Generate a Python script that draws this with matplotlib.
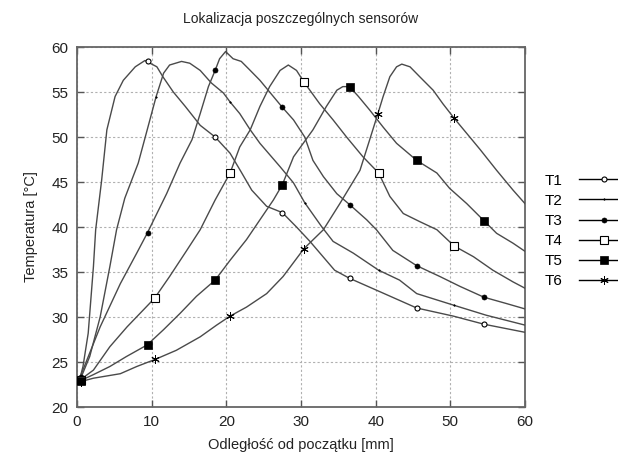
import matplotlib
matplotlib.use("Agg")
import matplotlib.pyplot as plt

plt.rcParams['font.family'] = ['Liberation Sans', 'DejaVu Sans']

title = "Lokalizacja poszczególnych sensorów"
xlabel = "Odległość od początku [mm]"
ylabel = "Temperatura [°C]"
xticks = [0, 10, 20, 30, 40, 50, 60]
yticks = [20, 25, 30, 35, 40, 45, 50, 55, 60]

t1_x = [0.4, 0.8, 1.5, 2.2, 2.5, 3.3, 4.0, 5.1, 6.2, 7.8, 9.1, 10.7, 11.5, 12.9, 14.5, 16.5, 18.5, 20.5, 22, 23.4, 25.4, 27.5, 29.4, 31.2, 34.5, 36.5, 40.6, 45.5, 50.4, 54.5, 60]
t1_y = [23.2, 24.5, 28.2, 35.6, 39.7, 45.2, 50.8, 54.5, 56.3, 57.8, 58.5, 57.8, 56.7, 55, 53.4, 51.3, 50, 48.2, 46.1, 44.1, 42.3, 41.6, 40.0, 38.4, 35.2, 34.3, 32.8, 31.0, 30.1, 29.2, 28.3]
t1_mx = [0.5, 9.5, 18.5, 27.5, 36.5, 45.5, 54.5]
t1_my = [23.2, 58.4, 50.0, 41.6, 34.3, 31.0, 29.2]

t2_x = [0.4, 1.7, 3.1, 4.4, 5.3, 6.4, 8.2, 9.5, 10.6, 11.6, 12.4, 14.0, 15.1, 16.5, 18.0, 19.6, 20.5, 21.8, 23.2, 24.5, 27.2, 29.0, 30.5, 32.8, 34.3, 37, 40.4, 43.2, 45.5, 50.5, 54.8, 60]
t2_y = [23.0, 25.6, 30, 35.6, 39.7, 43.2, 47.1, 51.1, 54.5, 57.1, 58, 58.4, 58.2, 57.4, 56, 54.9, 53.9, 52.6, 50.8, 49.3, 46.7, 44.9, 42.7, 40, 38.4, 37.1, 35.2, 34.1, 32.6, 31.3, 30.2, 29.1]
t2_mx = [0.5, 10.6, 20.5, 30.5, 40.4, 50.5]
t2_my = [23.0, 54.5, 53.9, 42.7, 35.2, 31.3]

t3_x = [0.4, 3.1, 5.8, 8.0, 9.4, 10.7, 12, 13.8, 15.4, 16.5, 17.6, 18.5, 19.1, 19.9, 20.9, 22, 23.2, 24.5, 25.8, 27.5, 29, 30.5, 31.6, 33, 34.8, 36.5, 38.8, 40.1, 42.3, 45.5, 48.6, 51.3, 54.5, 57.5, 60]
t3_y = [23.3, 28.9, 33.7, 37.1, 39.3, 41.5, 43.7, 47.1, 49.7, 52.6, 55.6, 57.4, 58.7, 59.5, 58.7, 58.4, 57.4, 56.3, 55, 53.3, 51.9, 50, 47.4, 45.6, 43.7, 42.5, 40.8, 39.7, 37.4, 35.7, 34.5, 33.4, 32.2, 31.5, 30.9]
t3_mx = [0.5, 9.5, 18.5, 27.5, 36.5, 45.5, 54.5]
t3_my = [23.3, 39.3, 57.4, 53.3, 42.5, 35.7, 32.2]

t4_x = [0.4, 2.2, 4.4, 6.7, 8.9, 10.4, 12.4, 14.7, 16.5, 18.5, 20.5, 21.8, 23.2, 24.5, 25.8, 27.2, 28.3, 29.4, 30.4, 32.5, 34.3, 36.1, 38.3, 40.4, 41.9, 43.7, 45.9, 48.2, 50.5, 53.1, 55.7, 58.4, 60]
t4_y = [23.0, 24.1, 26.7, 28.9, 30.8, 32.1, 34.5, 37.4, 39.7, 43, 46, 48.9, 50.8, 53.4, 55.6, 57.4, 58, 57.4, 56.1, 53.7, 51.9, 50, 47.8, 46, 43.4, 41.5, 40.6, 39.7, 37.9, 36.7, 35.2, 33.9, 33.2]
t4_mx = [0.5, 10.4, 20.5, 30.4, 40.4, 50.5]
t4_my = [23.0, 32.1, 46.0, 56.1, 46.0, 37.9]

t5_x = [0.4, 2.2, 4.4, 6.6, 9.4, 11.6, 13.8, 16, 18.5, 20.5, 22.7, 24.5, 26.3, 27.5, 29, 31.6, 33.4, 34.8, 35.6, 36.5, 37.7, 39.2, 41, 42.8, 45.5, 48.2, 49.9, 52.2, 54.5, 56.2, 58.4, 60]
t5_y = [22.9, 23.6, 24.5, 25.6, 26.9, 28.6, 30.4, 32.3, 34.1, 36.3, 38.6, 40.8, 43, 44.7, 47.8, 50.8, 53.4, 55.2, 55.6, 55.6, 54.5, 53, 51.1, 49.3, 47.4, 46.0, 44.3, 42.6, 40.7, 39.3, 38.2, 37.3]
t5_mx = [0.5, 9.5, 18.5, 27.5, 36.5, 45.5, 54.5]
t5_my = [22.9, 26.9, 34.1, 44.7, 55.6, 47.4, 40.7]

t6_x = [0.4, 2.2, 5.8, 8, 10.5, 13.3, 16.5, 18.7, 20.5, 22.7, 25.4, 27.6, 30.4, 33, 35.2, 37.9, 39.2, 40.3, 41, 41.9, 42.8, 43.5, 44.6, 45.9, 47.7, 49, 50.5, 52.2, 54, 56.2, 58.4, 60]
t6_y = [22.8, 23.2, 23.7, 24.5, 25.3, 26.3, 27.8, 29.1, 30.1, 31.1, 32.6, 34.5, 37.6, 39.7, 42.6, 46.3, 49.7, 52.6, 54.5, 56.7, 57.8, 58.1, 57.8, 56.7, 55.2, 53.7, 52.1, 50.4, 48.6, 46.3, 44.1, 42.6]
t6_mx = [0.5, 10.5, 20.5, 30.4, 40.3, 50.5]
t6_my = [22.8, 25.3, 30.1, 37.6, 52.6, 52.1]

names = ["T1", "T2", "T3", "T4", "T5", "T6"]
series = [
    (t1_x, t1_y, t1_mx, t1_my),
    (t2_x, t2_y, t2_mx, t2_my),
    (t3_x, t3_y, t3_mx, t3_my),
    (t4_x, t4_y, t4_mx, t4_my),
    (t5_x, t5_y, t5_mx, t5_my),
    (t6_x, t6_y, t6_mx, t6_my),
]
mstyles = [
    dict(marker='o', ms=3.6, mfc='white', mec='black', mew=0.8),
    dict(marker='.', ms=2.2, mfc='black', mec='black', mew=0.4),
    dict(marker='o', ms=3.6, mfc='black', mec='black', mew=0.5),
    dict(marker='s', ms=5.2, mfc='white', mec='black', mew=0.8),
    dict(marker='s', ms=5.2, mfc='black', mec='black', mew=0.5),
    dict(marker=(6, 2, 0), ms=6, mfc='black', mec='black', mew=0.7),
]
line_color = '#4a4a4a'

fig = plt.figure(figsize=(6.18, 4.66), dpi=100)
ax = fig.add_axes([0.1246, 0.1266, 0.7249, 0.7725])

handles = []
for (x, y, mx, my), st, nm in zip(series, mstyles, names):
    ax.plot(x, y, color=line_color, lw=1.0, zorder=3)
    ax.plot(mx, my, ls='none', zorder=4, **st)
    h, = ax.plot([], [], color='black', lw=1.0, **st)
    handles.append(h)

ax.set_xlim(0, 60)
ax.set_ylim(20, 60)
ax.set_xticks(xticks)
ax.set_yticks(yticks)
ax.grid(True, color='#b0b0b0', ls=(0, (2, 2)), lw=0.8)
ax.tick_params(direction='in', top=True, right=True, length=5, width=1,
               color='#555555', labelsize=11, labelcolor='#222222', pad=6)
for s in ax.spines.values():
    s.set_color('#666666')
    s.set_linewidth(1.3)

ax.set_title(title, fontsize=10, color='#222222', pad=17)
ax.set_xlabel(xlabel, fontsize=10.5, color='#222222', labelpad=6)
ax.set_ylabel(ylabel, fontsize=10.5, color='#222222', labelpad=10)

leg = ax.legend(handles, names, loc='upper left', bbox_to_anchor=(1.03, 0.665),
                frameon=False, fontsize=11, markerfirst=False, handlelength=3.2,
                handletextpad=1.1, labelspacing=0.4, borderaxespad=0)

fig.savefig("out.png", dpi=100)
